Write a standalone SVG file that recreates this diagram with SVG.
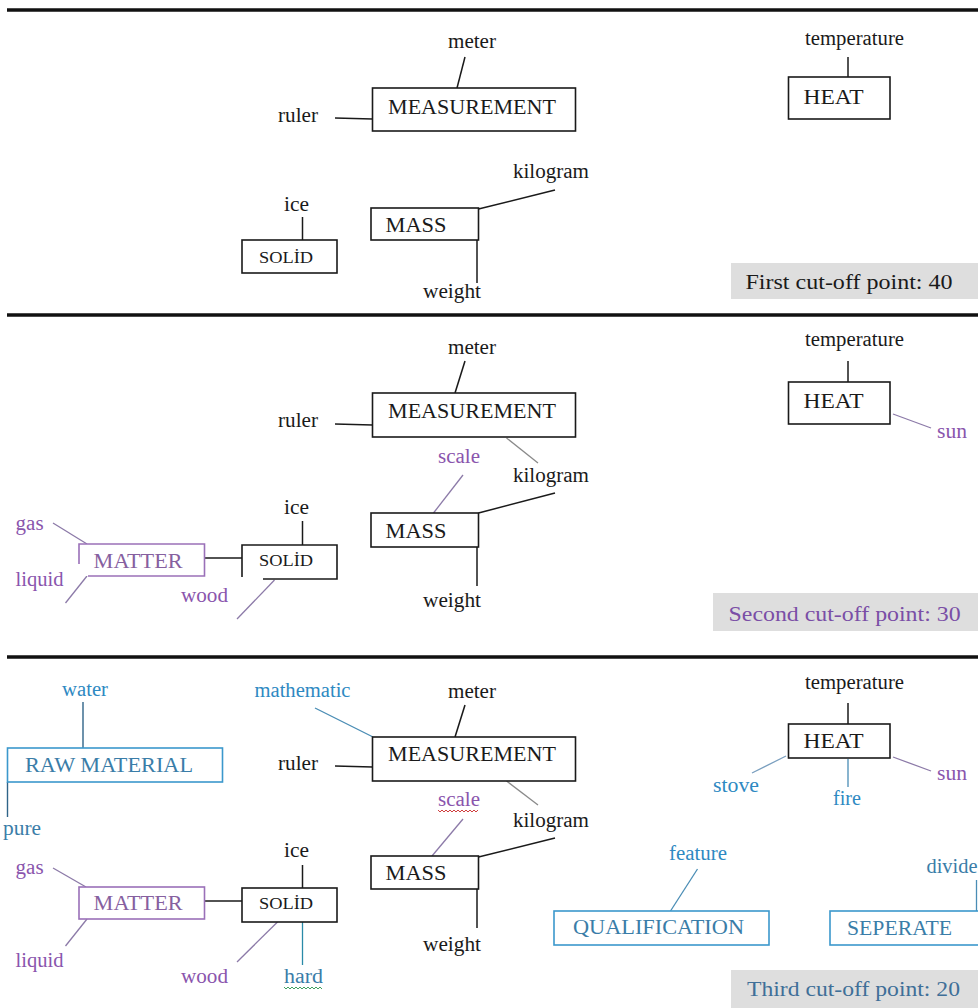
<svg xmlns="http://www.w3.org/2000/svg" width="978" height="1008" viewBox="0 0 978 1008" font-family="Liberation Serif, Times New Roman, Times, Tinos, Noto Serif, DejaVu Serif, serif">
<style>
text{font-family:"Liberation Serif","Times New Roman",Times,Tinos,"Noto Serif","DejaVu Serif",serif;font-size:20px;fill:#1a1a1a}
.bt{font-size:21px}
.sm{font-size:16px}
.ct{font-size:21px}
.pur{fill:#8a55ad}
.purb{fill:#86609f}
.blu{fill:#2e89c2}
.blub{fill:#3a7da8}
.c2{fill:#7a4ea6}
.c3{fill:#3f6f98}
.box{fill:#fff;stroke:#1a1a1a;stroke-width:1.6}
.boxp{fill:#fff;stroke:#9a70b8;stroke-width:1.6}
.boxb{fill:#fff;stroke:#3b98cc;stroke-width:1.6}
.edge{fill:none;stroke:#1a1a1a;stroke-width:1.6}
.edgep{fill:none;stroke:#9a70b8;stroke-width:1.6}
.cut{fill:#dedede}
.sep{stroke:#111;stroke-width:3.5}
.ln{stroke:#1a1a1a;stroke-width:1.5;fill:none}
.lg{stroke:#8a8a8a;stroke-width:1.3;fill:none}
.lp{stroke:#8c7aa8;stroke-width:1.3;fill:none}
.lb{stroke:#4a8db5;stroke-width:1.3;fill:none}
.ld{stroke:#2f6488;stroke-width:1.4;fill:none}
.wr{stroke:#d04040;stroke-width:1;fill:none}
.wg{stroke:#40a060;stroke-width:1;fill:none}
</style>

<g id="separators">
<line class="sep" x1="7" y1="10" x2="978" y2="10"/>
<line class="sep" x1="7" y1="315" x2="978" y2="315"/>
<line class="sep" x1="7" y1="657" x2="978" y2="657"/>
</g>

<g id="connectors">
<line class="ln" x1="465" y1="57" x2="457" y2="88"/>
<line class="ln" x1="335" y1="118" x2="372.5" y2="119"/>
<line class="ln" x1="848" y1="57" x2="848" y2="77"/>
<line class="ln" x1="555" y1="190" x2="478.5" y2="209"/>
<line class="ln" x1="302.5" y1="217" x2="302.5" y2="240"/>
<line class="ln" x1="477" y1="240" x2="477" y2="283"/>
<line class="ln" x1="465" y1="361" x2="455" y2="393"/>
<line class="ln" x1="335" y1="424" x2="372.5" y2="425"/>
<line class="ln" x1="848" y1="361" x2="848" y2="382"/>
<line class="lp" x1="893" y1="414" x2="931" y2="428"/>
<line class="lg" x1="506.5" y1="438" x2="538" y2="463"/>
<line class="lp" x1="463" y1="475" x2="433.5" y2="513"/>
<line class="ln" x1="555" y1="493" x2="478.5" y2="513"/>
<line class="ln" x1="302.5" y1="521" x2="302.5" y2="545"/>
<line class="ln" x1="477" y1="547" x2="477" y2="586"/>
<line class="ln" x1="204.5" y1="558" x2="242" y2="558"/>
<line class="lp" x1="53" y1="523" x2="87" y2="544"/>
<line class="lp" x1="87" y1="576" x2="65.5" y2="603"/>
<line class="lp" x1="274.5" y1="580" x2="237" y2="619"/>
<line class="ld" x1="83" y1="702" x2="83" y2="748"/>
<line class="ld" x1="7.5" y1="782" x2="7.5" y2="817"/>
<line class="lb" x1="315" y1="708" x2="373" y2="737"/>
<line class="ln" x1="465" y1="705" x2="455" y2="737"/>
<line class="ln" x1="335" y1="766" x2="372.5" y2="767"/>
<line class="lg" x1="506.5" y1="781" x2="538" y2="805"/>
<line class="lp" x1="463" y1="819" x2="432" y2="856"/>
<line class="ln" x1="555" y1="838" x2="478.5" y2="857"/>
<line class="ln" x1="477" y1="889" x2="477" y2="928"/>
<line class="ln" x1="302.5" y1="865" x2="302.5" y2="888"/>
<line class="ln" x1="204.5" y1="901" x2="242" y2="901"/>
<line class="lp" x1="53" y1="868" x2="86" y2="887"/>
<line class="lp" x1="87" y1="919" x2="65.5" y2="946"/>
<line class="lp" x1="277.5" y1="922" x2="237" y2="962"/>
<line class="lb" x1="302.5" y1="922" x2="302.5" y2="965" style="stroke:#2a8aa8"/>
<line class="ln" x1="848" y1="703" x2="848" y2="724"/>
<line class="lb" x1="752" y1="773" x2="786" y2="756" style="stroke:#7a9fbf"/>
<line class="lb" x1="848" y1="759" x2="848" y2="787"/>
<line class="lp" x1="893" y1="757" x2="931" y2="771"/>
<line class="lb" x1="697.5" y1="869" x2="670.5" y2="911"/>
<line class="lb" x1="976.5" y1="880" x2="976.5" y2="911"/>
</g>

<g id="s1-meter"><text x="448" y="48" textLength="48" lengthAdjust="spacingAndGlyphs">meter</text></g>
<g id="s1-measurement"><rect class="box" x="372.5" y="88" width="203" height="43"/><text class="bt" x="388" y="114" textLength="168" lengthAdjust="spacingAndGlyphs">MEASUREMENT</text></g>
<g id="s1-ruler"><text x="278" y="122" textLength="40" lengthAdjust="spacingAndGlyphs">ruler</text></g>
<g id="s1-temperature"><text x="805" y="45" textLength="99" lengthAdjust="spacingAndGlyphs">temperature</text></g>
<g id="s1-heat"><rect class="box" x="788.5" y="77" width="101.5" height="42"/><text class="bt" x="803.5" y="104" textLength="60" lengthAdjust="spacingAndGlyphs">HEAT</text></g>
<g id="s1-kilogram"><text x="513" y="178" textLength="76" lengthAdjust="spacingAndGlyphs">kilogram</text></g>
<g id="s1-mass"><rect class="box" x="371" y="208" width="107.5" height="32"/><text class="bt" x="385.5" y="232" textLength="61" lengthAdjust="spacingAndGlyphs">MASS</text></g>
<g id="s1-ice"><text x="284" y="211" textLength="25" lengthAdjust="spacingAndGlyphs">ice</text></g>
<g id="s1-solid"><rect class="box" x="242" y="240" width="95" height="33"/><text class="sm" x="259" y="263" textLength="54" lengthAdjust="spacingAndGlyphs">SOLİD</text></g>
<g id="s1-weight"><text x="423" y="298" textLength="58" lengthAdjust="spacingAndGlyphs">weight</text></g>
<g id="s1-cutoff"><rect class="cut" x="731" y="263" width="247" height="36"/><text class="ct" x="745.5" y="289" textLength="207" lengthAdjust="spacingAndGlyphs">First cut-off point: 40</text></g>

<g id="s2-meter"><text x="448" y="354" textLength="48" lengthAdjust="spacingAndGlyphs">meter</text></g>
<g id="s2-measurement"><rect class="box" x="372.5" y="393" width="203" height="44"/><text class="bt" x="388" y="418" textLength="168" lengthAdjust="spacingAndGlyphs">MEASUREMENT</text></g>
<g id="s2-ruler"><text x="278" y="427" textLength="40" lengthAdjust="spacingAndGlyphs">ruler</text></g>
<g id="s2-temperature"><text x="805" y="346" textLength="99" lengthAdjust="spacingAndGlyphs">temperature</text></g>
<g id="s2-heat"><rect class="box" x="788.5" y="382" width="101.5" height="42"/><text class="bt" x="803.5" y="408" textLength="60" lengthAdjust="spacingAndGlyphs">HEAT</text></g>
<g id="s2-sun"><text class="pur" x="937" y="438" textLength="30" lengthAdjust="spacingAndGlyphs">sun</text></g>
<g id="s2-scale"><text class="pur" x="438" y="463" textLength="42" lengthAdjust="spacingAndGlyphs">scale</text></g>
<g id="s2-kilogram"><text x="513" y="482" textLength="76" lengthAdjust="spacingAndGlyphs">kilogram</text></g>
<g id="s2-mass"><rect class="box" x="371" y="513" width="107.5" height="34"/><text class="bt" x="385.5" y="538" textLength="61" lengthAdjust="spacingAndGlyphs">MASS</text></g>
<g id="s2-ice"><text x="284" y="514" textLength="25" lengthAdjust="spacingAndGlyphs">ice</text></g>
<g id="s2-solid"><rect x="242" y="545" width="95" height="34" fill="#fff"/><path class="edge" d="M242,577 V545 H337 V579 H263"/><text class="sm" x="259" y="566" textLength="54" lengthAdjust="spacingAndGlyphs">SOLİD</text></g>
<g id="s2-matter"><rect x="79" y="544" width="125.5" height="32" fill="#fff"/><path class="edgep" d="M79,564 V544 H204.5 V576 H88"/><text class="purb" x="93.6" y="568" textLength="89" lengthAdjust="spacingAndGlyphs" font-size="21">MATTER</text></g>
<g id="s2-gas"><text class="pur" x="15.6" y="530" textLength="28" lengthAdjust="spacingAndGlyphs">gas</text></g>
<g id="s2-liquid"><text class="pur" x="15.6" y="586" textLength="48" lengthAdjust="spacingAndGlyphs">liquid</text></g>
<g id="s2-wood"><text class="pur" x="181" y="602" textLength="47" lengthAdjust="spacingAndGlyphs">wood</text></g>
<g id="s2-weight"><text x="423" y="607" textLength="58" lengthAdjust="spacingAndGlyphs">weight</text></g>
<g id="s2-cutoff"><rect class="cut" x="713" y="593" width="265" height="38"/><text class="ct c2" x="728.6" y="621" textLength="232" lengthAdjust="spacingAndGlyphs">Second cut-off point: 30</text></g>

<g id="s3-water"><text class="blu" x="62" y="696" textLength="46" lengthAdjust="spacingAndGlyphs">water</text></g>
<g id="s3-rawmaterial"><rect class="boxb" x="7.5" y="748" width="215" height="34"/><text class="bt blub" x="25" y="772" textLength="168" lengthAdjust="spacingAndGlyphs">RAW MATERIAL</text></g>
<g id="s3-pure"><text class="blub" x="3" y="835" textLength="38" lengthAdjust="spacingAndGlyphs">pure</text></g>
<g id="s3-mathematic"><text class="blu" x="254.5" y="697" textLength="96" lengthAdjust="spacingAndGlyphs">mathematic</text></g>
<g id="s3-meter"><text x="448" y="698" textLength="48" lengthAdjust="spacingAndGlyphs">meter</text></g>
<g id="s3-measurement"><rect class="box" x="372.5" y="737" width="203" height="44"/><text class="bt" x="388" y="761" textLength="168" lengthAdjust="spacingAndGlyphs">MEASUREMENT</text></g>
<g id="s3-ruler"><text x="278" y="770" textLength="40" lengthAdjust="spacingAndGlyphs">ruler</text></g>
<g id="s3-scale"><text class="pur" x="438" y="806" textLength="42" lengthAdjust="spacingAndGlyphs">scale</text><path class="wr" d="M438,810 l2,2 l2,-2 l2,2 l2,-2 l2,2 l2,-2 l2,2 l2,-2 l2,2 l2,-2 l2,2 l2,-2 l2,2 l2,-2 l2,2 l2,-2 l2,2 l2,-2 l2,2 l2,-2"/></g>
<g id="s3-kilogram"><text x="513" y="827" textLength="76" lengthAdjust="spacingAndGlyphs">kilogram</text></g>
<g id="s3-mass"><rect class="box" x="371" y="856" width="107.5" height="33"/><text class="bt" x="385.5" y="880" textLength="61" lengthAdjust="spacingAndGlyphs">MASS</text></g>
<g id="s3-weight"><text x="423" y="951" textLength="58" lengthAdjust="spacingAndGlyphs">weight</text></g>
<g id="s3-ice"><text x="284" y="857" textLength="25" lengthAdjust="spacingAndGlyphs">ice</text></g>
<g id="s3-solid"><rect class="box" x="242" y="888" width="95" height="34"/><text class="sm" x="259" y="909" textLength="54" lengthAdjust="spacingAndGlyphs">SOLİD</text></g>
<g id="s3-matter"><rect class="boxp" x="79" y="887" width="125.5" height="32"/><text class="purb" x="93.6" y="910" textLength="89" lengthAdjust="spacingAndGlyphs" font-size="21">MATTER</text></g>
<g id="s3-gas"><text class="pur" x="15.6" y="874" textLength="28" lengthAdjust="spacingAndGlyphs">gas</text></g>
<g id="s3-liquid"><text class="pur" x="15.6" y="967" textLength="48" lengthAdjust="spacingAndGlyphs">liquid</text></g>
<g id="s3-wood"><text class="pur" x="181" y="983" textLength="47" lengthAdjust="spacingAndGlyphs">wood</text></g>
<g id="s3-hard"><text class="blub" x="284" y="983" textLength="39" lengthAdjust="spacingAndGlyphs">hard</text><path class="wg" d="M284,987 l2,2 l2,-2 l2,2 l2,-2 l2,2 l2,-2 l2,2 l2,-2 l2,2 l2,-2 l2,2 l2,-2 l2,2 l2,-2 l2,2 l2,-2 l2,2 l2,-2 l2,2"/></g>
<g id="s3-temperature"><text x="805" y="689" textLength="99" lengthAdjust="spacingAndGlyphs">temperature</text></g>
<g id="s3-heat"><rect class="box" x="788.5" y="724" width="101.5" height="34"/><text class="bt" x="803.5" y="748" textLength="60" lengthAdjust="spacingAndGlyphs">HEAT</text></g>
<g id="s3-stove"><text class="blu" x="713" y="792" textLength="46" lengthAdjust="spacingAndGlyphs">stove</text></g>
<g id="s3-fire"><text class="blu" x="833" y="805" textLength="28" lengthAdjust="spacingAndGlyphs">fire</text></g>
<g id="s3-sun"><text class="pur" x="937" y="780" textLength="30" lengthAdjust="spacingAndGlyphs">sun</text></g>
<g id="s3-feature"><text class="blu" x="669" y="860" textLength="58" lengthAdjust="spacingAndGlyphs">feature</text></g>
<g id="s3-qualification"><rect class="boxb" x="554" y="911" width="215" height="34"/><text class="bt blub" x="573" y="934" textLength="171" lengthAdjust="spacingAndGlyphs">QUALIFICATION</text></g>
<g id="s3-divide"><text class="blub" x="926.5" y="873" textLength="51" lengthAdjust="spacingAndGlyphs">divide</text></g>
<g id="s3-seperate"><rect class="boxb" x="830" y="911" width="160" height="34"/><text class="bt blub" x="847" y="935" textLength="105" lengthAdjust="spacingAndGlyphs">SEPERATE</text></g>
<g id="s3-cutoff"><rect class="cut" x="731" y="970" width="247" height="38"/><text class="ct c3" x="747" y="996" textLength="213" lengthAdjust="spacingAndGlyphs">Third cut-off point: 20</text></g>
</svg>
